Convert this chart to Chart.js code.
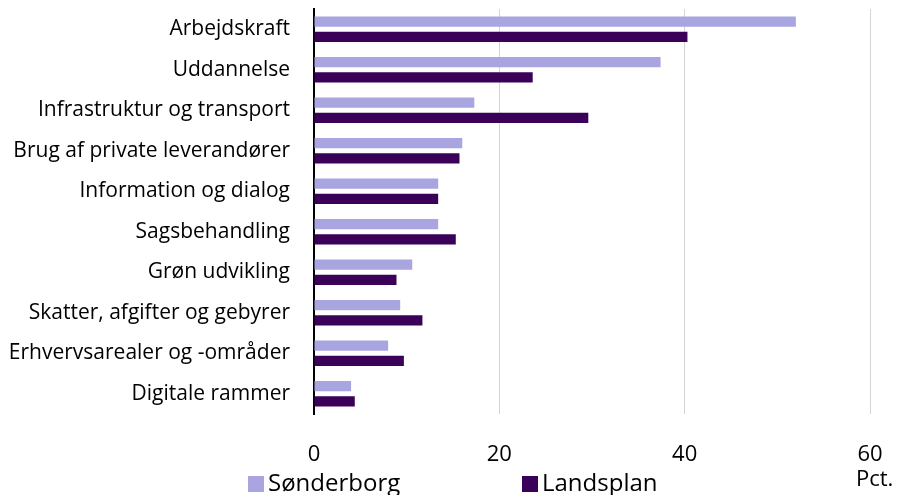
<!DOCTYPE html>
<html>
<head>
<meta charset="utf-8">
<script src="https://cdn.jsdelivr.net/npm/chart.js@4/dist/chart.umd.min.js"></script>
<style>
    html, body { margin: 0; padding: 0; background: #fff; }
    #wrap { position: relative; width: 898px; height: 495px; }
    #legend { position: absolute; left: 248px; top: 468px; font-family: 'Open Sans', sans-serif; font-size: 24px; line-height: 28px; color: #000; white-space: nowrap; }
    #legend span.item { position: absolute; top: 0; }
    #legend i { display: inline-block; width: 16px; height: 16px; margin-right: 4px; vertical-align: -1px; }
</style>
</head>
<body>
<div id="wrap">
    <canvas id="chart" width="898" height="495"></canvas>
    <div id="legend"></div>
</div>
<script>
const categories = ['Arbejdskraft', 'Uddannelse', 'Infrastruktur og transport', 'Brug af private leverandører',
    'Information og dialog', 'Sagsbehandling', 'Grøn udvikling', 'Skatter, afgifter og gebyrer',
    'Erhvervsarealer og -områder', 'Digitale rammer'];
const sonderborg = [52.0, 37.4, 17.3, 16.0, 13.4, 13.4, 10.6, 9.3, 8.0, 4.0];
const landsplan = [40.3, 23.6, 29.6, 15.7, 13.4, 15.3, 8.9, 11.7, 9.7, 4.4];
const xTicks = [0, 20, 40, 60];
const seriesNames = ['Sønderborg', 'Landsplan'];
const seriesColors = ['#a8a5e0', '#3b0058'];

// "Pct." sits under the 60 tick, outside the axis
const pctLabel = {
    id: 'pctLabel',
    afterDraw(chart) {
        const ctx = chart.ctx;
        const x = chart.scales.x.getPixelForValue(60);
        ctx.save();
        ctx.font = '22px "Open Sans"';
        ctx.fillStyle = '#000';
        ctx.textAlign = 'left';
        ctx.textBaseline = 'alphabetic';
        ctx.fillText('Pct.', x - 14, 486);
        ctx.restore();
    }
};

new Chart(document.getElementById('chart').getContext('2d'), {
    type: 'bar',
    data: {
        labels: categories,
        datasets: [{
            label: seriesNames[0],
            data: sonderborg,
            backgroundColor: seriesColors[0],
            categoryPercentage: 0.755,
            barPercentage: 0.68
        }, {
            label: seriesNames[1],
            data: landsplan,
            backgroundColor: seriesColors[1],
            categoryPercentage: 0.755,
            barPercentage: 0.68
        }]
    },
    options: {
        responsive: false,
        animation: false,
        indexAxis: 'y',
        layout: { padding: { top: 9, right: 28, left: 0, bottom: 0 } },
        plugins: { legend: { display: false }, tooltip: { enabled: false } },
        scales: {
            x: {
                min: 0, max: 60,
                afterBuildTicks: scale => { scale.ticks = xTicks.map(v => ({ value: v })); },
                afterFit: scale => {
                    scale.height = 81;
                    scale.paddingLeft = 0;
                    scale.paddingRight = 0;
                },
                grid: { color: ctx => ctx.tick && ctx.tick.value === 0 ? 'rgba(0,0,0,0)' : '#d4d4d4', lineWidth: 1, drawTicks: false },
                border: { display: false },
                ticks: { padding: 28, color: '#000', font: { family: 'Open Sans', size: 22 } }
            },
            y: {
                afterFit: scale => {
                    scale.width = 314;
                    scale.paddingTop = 0;
                    scale.paddingBottom = 0;
                },
                grid: { display: false, drawTicks: false },
                border: { display: true, color: '#000', width: 2 },
                ticks: { padding: 24, color: '#000', font: { family: 'Open Sans', size: 21 } }
            }
        }
    },
    plugins: [pctLabel]
});

const legend = document.getElementById('legend');
const legendOffsets = [0, 274];
seriesNames.forEach((name, i) => {
    const el = document.createElement('span');
    el.className = 'item';
    el.style.left = legendOffsets[i] + 'px';
    el.innerHTML = `<i style="background:${seriesColors[i]}"></i>${name}`;
    legend.appendChild(el);
});
</script>
</body>
</html>
